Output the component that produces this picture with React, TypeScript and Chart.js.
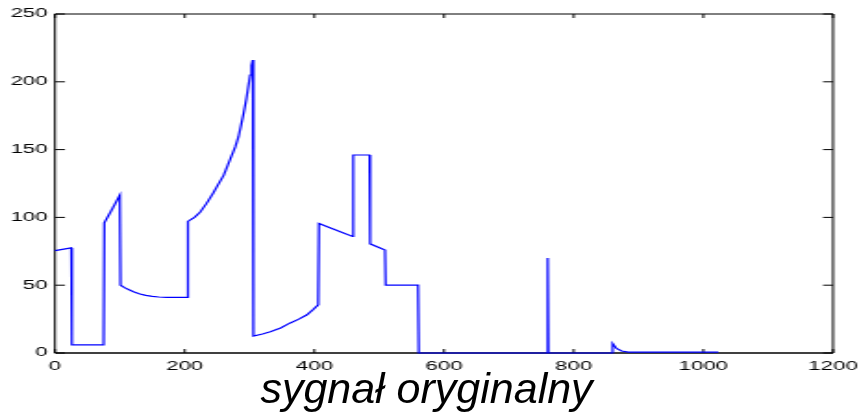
import React, { useEffect, useRef } from "react";
import { Chart, registerables } from "chart.js";

Chart.register(...registerables);

// Signal samples (x = sample index, y = value)
const sampleX = [
  0, 25, 26, 75, 76, 88, 100,
  101, 108, 115, 122, 131, 140, 150, 160, 172, 204,
  205, 215, 224, 234, 244, 252, 260, 266, 272, 278, 283, 287, 291, 295, 298, 301, 303, 305,
  306, 320, 332, 348, 362, 376, 388, 398, 406,
  407, 440, 459, 460, 485, 486, 509, 510, 560,
  561, 759, 760, 761, 859, 860, 866, 874, 884, 1023,
];
const sampleY = [
  75.5, 77.5, 6, 6, 96, 106, 116.5,
  50, 48, 46.5, 45, 43.5, 42.5, 41.8, 41.3, 41, 41,
  97, 100, 104, 110.5, 118, 124.5, 131, 138, 145, 152, 159.5, 168, 177, 187, 196, 205, 212, 216,
  12.5, 14, 15.7, 18.5, 22, 25, 28, 32, 35.5,
  95.5, 89.5, 86, 146, 146, 80.5, 76, 50, 50,
  0, 0, 70, 0, 0, 7, 3.4, 1.5, 0.6, 0.6,
];
const xTicks = [0, 200, 400, 600, 800, 1000, 1200];
const yTicks = [0, 50, 100, 150, 200, 250];
const captionText = "sygnał oryginalny";

const OUT_W = 859;
const INNER_W = 464;
const STRETCH = OUT_W / INNER_W;

const framePlugin = {
  id: "frame",
  beforeDatasetsDraw(chart: any) {
    const { ctx, chartArea: a, scales } = chart;
    const x = scales.x;
    const y = scales.y;
    ctx.save();
    ctx.strokeStyle = "#000";
    ctx.lineWidth = 1;
    ctx.beginPath();
    ctx.moveTo(a.left, a.top);
    ctx.lineTo(a.right, a.top);
    ctx.moveTo(a.left, a.top);
    ctx.lineTo(a.left, a.bottom);
    ctx.moveTo(a.right, a.top);
    ctx.lineTo(a.right, a.bottom);
    for (const v of xTicks) {
      const px = x.getPixelForValue(v);
      ctx.moveTo(px, a.bottom);
      ctx.lineTo(px, a.bottom - 4);
      ctx.moveTo(px, a.top);
      ctx.lineTo(px, a.top + 4);
    }
    for (const v of yTicks) {
      const py = y.getPixelForValue(v);
      ctx.moveTo(a.left, py);
      ctx.lineTo(a.left + 5.4, py);
      ctx.moveTo(a.right, py);
      ctx.lineTo(a.right - 5.4, py);
    }
    ctx.stroke();
    ctx.lineWidth = 1.6;
    ctx.beginPath();
    ctx.moveTo(a.left, a.bottom);
    ctx.lineTo(a.right, a.bottom);
    ctx.stroke();
    ctx.restore();
  },
};

export default function App() {
  const canvasRef = useRef<HTMLCanvasElement | null>(null);

  useEffect(() => {
    document.body.style.margin = "0";
    const canvas = canvasRef.current;
    if (!canvas) return;
    const points = sampleX.map((x, i) => ({ x, y: sampleY[i] }));
    const tickFont = { family: "'Liberation Sans', Arial, sans-serif", size: 12 };
    const chart = new Chart(canvas, {
      type: "line",
      data: {
        datasets: [
          {
            data: points,
            borderColor: "#0000ff",
            borderWidth: 1.2,
            pointRadius: 0,
            tension: 0,
            fill: false,
            clip: 3,
          } as any,
        ],
      },
      options: {
        animation: false,
        responsive: false,
        devicePixelRatio: 1,
        events: [],
        layout: { padding: { top: 14, right: INNER_W - 833 / STRETCH, left: 0, bottom: 0 } },
        plugins: {
          legend: { display: false },
          tooltip: { enabled: false },
          title: { display: false },
        },
        scales: {
          x: {
            type: "linear",
            min: 0,
            max: 1200,
            grid: { display: false, drawTicks: false },
            border: { display: false },
            afterBuildTicks: (s: any) => {
              s.ticks = xTicks.map((v) => ({ value: v }));
            },
            afterFit: (s: any) => {
              s.height = 63;
              s.paddingLeft = 0;
              s.paddingRight = 0;
            },
            ticks: {
              color: "#000",
              font: tickFont,
              padding: 6,
              maxRotation: 0,
              autoSkip: false,
              callback: (v: any) => String(v),
            },
          },
          y: {
            type: "linear",
            min: 0,
            max: 250,
            grid: { display: false, drawTicks: false },
            border: { display: false },
            afterBuildTicks: (s: any) => {
              s.ticks = yTicks.map((v) => ({ value: v }));
            },
            afterFit: (s: any) => {
              s.width = 55 / STRETCH;
              s.paddingTop = 0;
              s.paddingBottom = 0;
            },
            ticks: {
              color: "#000",
              font: tickFont,
              padding: 4,
              autoSkip: false,
              callback: (v: any) => String(v),
            },
          },
        },
      },
      plugins: [framePlugin],
    });
    return () => chart.destroy();
  }, []);

  return (
    <div style={{ position: "relative", width: OUT_W, height: 416, overflow: "hidden", background: "#fff" }}>
      <canvas
        ref={canvasRef}
        width={INNER_W}
        height={416}
        style={{
          position: "absolute",
          left: 0,
          top: 0,
          width: INNER_W,
          height: 416,
          transform: `scaleX(${STRETCH})`,
          transformOrigin: "0 0",
        }}
      />
      <div
        style={{
          position: "absolute",
          left: -3,
          top: 367,
          width: OUT_W,
          textAlign: "center",
          fontFamily: "'Liberation Sans', Arial, sans-serif",
          fontStyle: "italic",
          fontSize: 43,
          lineHeight: "43px",
          color: "#000",
          whiteSpace: "nowrap",
        }}
      >
        {captionText}
      </div>
    </div>
  );
}
